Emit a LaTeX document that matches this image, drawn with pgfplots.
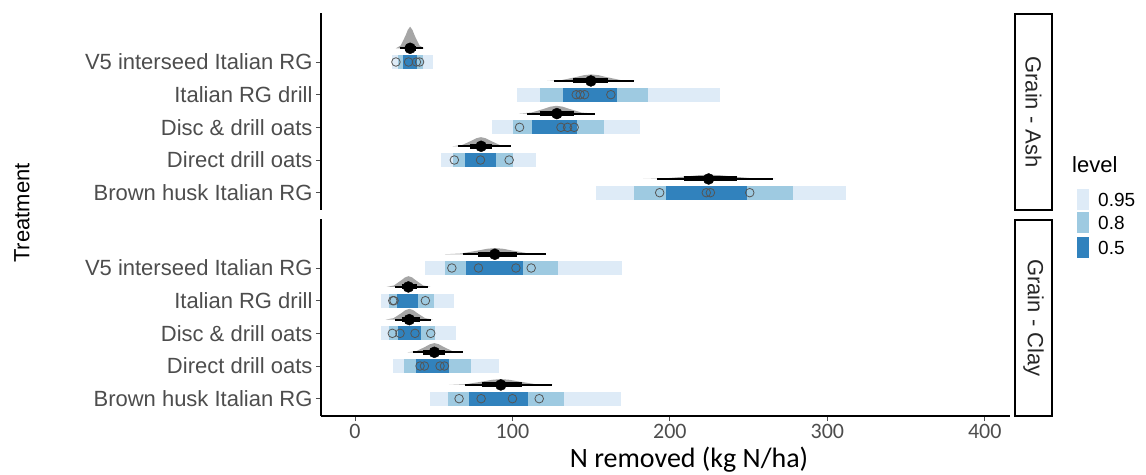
\documentclass[border=0pt]{standalone}
\usepackage{pgfplots}
\pgfplotsset{compat=1.18}
\usepackage{fontspec}
\setmainfont{Liberation Sans}
\newfontfamily\carl{Carlito}
\definecolor{lightb}{HTML}{DEEBF7}
\definecolor{medb}{HTML}{9ECAE1}
\definecolor{darkb}{HTML}{3182BD}
\definecolor{slabg}{HTML}{A6A6A6}
\definecolor{txtg}{HTML}{4D4D4D}
\definecolor{circg}{HTML}{555555}
\newcommand{\band}[5]{\addplot[fill=#5,draw=none,forget plot] coordinates {(#1,#3) (#2,#3) (#2,#4) (#1,#4)};}
\newcommand{\seg}[4]{\addplot[black,line width=#4,forget plot] coordinates {(#1,#3) (#2,#3)};}
\pgfplotsset{panel/.style={
  scale only axis, width=689pt, height=197pt,
  xmin=-21.6, xmax=416, ymin=0.47, ymax=6.5,
  ytick={1,2,3,4,5},
  yticklabels={Brown husk Italian RG, Direct drill oats, Disc \& drill oats, Italian RG drill, V5 interseed Italian RG},
  axis y line*=left,
  tick align=outside, major tick length=5pt,
  tick style={color=txtg, line width=0.9pt},
  axis line style={-, line width=1.2pt, black},
  yticklabel style={font=\fontsize{22}{26}\selectfont, text=txtg},
  /pgf/number format/assume math mode=true,
  clip=false,
}}
\begin{document}
\begin{tikzpicture}[x=1pt,y=1pt]
\useasboundingbox (0,0) rectangle (1146,474);
% ---------------- top panel: Grain - Ash
\begin{axis}[panel, at={(321pt,264pt)}, anchor=south west, axis x line=none]
\band{23.3}{49.6}{4.785}{5.215}{lightb}
\band{102.8}{232}{3.785}{4.215}{lightb}
\band{87.3}{181.2}{2.785}{3.215}{lightb}
\band{54.5}{115}{1.785}{2.215}{lightb}
\band{153.2}{312}{0.785}{1.215}{lightb}
\band{27.3}{43}{4.785}{5.215}{medb}
\band{117.6}{186}{3.785}{4.215}{medb}
\band{100.6}{158.3}{2.785}{3.215}{medb}
\band{62.5}{100.2}{1.785}{2.215}{medb}
\band{177}{278}{0.785}{1.215}{medb}
\band{30.3}{39.2}{4.785}{5.215}{darkb}
\band{132.4}{166.4}{3.785}{4.215}{darkb}
\band{112.3}{140.9}{2.785}{3.215}{darkb}
\band{69.9}{89.6}{1.785}{2.215}{darkb}
\band{197.5}{249}{0.785}{1.215}{darkb}
\addplot[only marks, mark=o, mark size=4.3pt, mark options={draw=circg, line width=0.8pt}] coordinates {
(26,5) (34,5) (39,5) (41,5)
(140.5,4) (143,4) (145.8,4) (162.5,4)
(104.5,3) (130.8,3) (135,3) (139.2,3)
(63.1,2) (79.7,2) (97.9,2)
(193.5,1) (223.1,1) (225.7,1) (250.7,1)};
% slabs
\addplot[fill=slabg, draw=none] coordinates {(26,5.42) (29,5.504) (32,5.798) (33.5,5.98) (35,6.08) (36.5,5.98) (38,5.798) (41,5.504) (44,5.42)};
\addplot[fill=slabg, draw=none] coordinates {(122,4.42) (131.3,4.447) (140.7,4.542) (145.3,4.596) (150,4.62) (154.7,4.596) (159.3,4.542) (168.7,4.447) (178,4.42)};
\addplot[fill=slabg, draw=none] coordinates {(104,3.42) (112,3.452) (120,3.566) (124,3.631) (128,3.66) (132,3.631) (136,3.566) (144,3.452) (152,3.42)};
\addplot[fill=slabg, draw=none] coordinates {(62,2.42) (68,2.458) (74,2.591) (77,2.666) (80,2.70) (83,2.666) (86,2.591) (92,2.458) (98,2.42)};
\addplot[fill=slabg, draw=none] coordinates {(183,1.42) (197,1.438) (211,1.499) (218,1.534) (225,1.55) (232,1.534) (239,1.499) (253,1.438) (267,1.42)};
% intervals
\seg{28.5}{43}{5.42}{2pt}
\seg{126.5}{177.4}{4.42}{2pt}
\seg{109.2}{152.6}{3.42}{2pt}
\seg{65.7}{99}{2.42}{2pt}
\seg{192}{265.3}{1.42}{2pt}
\seg{31.5}{38.5}{5.42}{5pt}
\seg{138.6}{160.8}{4.42}{5pt}
\seg{117.6}{138.8}{3.42}{5pt}
\seg{73}{86.9}{2.42}{5pt}
\seg{208.7}{242.6}{1.42}{5pt}
\addplot[only marks, mark=*, mark size=5.5pt, black] coordinates {(35,5.42) (149.8,4.42) (128.2,3.42) (80.1,2.42) (224.6,1.42)};
\end{axis}
% ---------------- bottom panel: Grain - Clay
\begin{axis}[panel, at={(321pt,58pt)}, anchor=south west, axis x line*=bottom,
  xtick={0,100,200,300,400},
  xticklabel style={font=\carl\fontsize{22}{26}\selectfont, text=txtg}]
\band{44.7}{169.7}{4.785}{5.215}{lightb}
\band{16.5}{63.1}{3.785}{4.215}{lightb}
\band{16.5}{64.2}{2.785}{3.215}{lightb}
\band{24.2}{91.7}{1.785}{2.215}{lightb}
\band{47.7}{169.1}{0.785}{1.215}{lightb}
\band{57.2}{129}{4.785}{5.215}{medb}
\band{21.6}{50.2}{3.785}{4.215}{medb}
\band{21.6}{50.9}{2.785}{3.215}{medb}
\band{31.4}{73.7}{1.785}{2.215}{medb}
\band{59.1}{132.7}{0.785}{1.215}{medb}
\band{70.6}{106.6}{4.785}{5.215}{darkb}
\band{26.5}{40.3}{3.785}{4.215}{darkb}
\band{27.1}{41.8}{2.785}{3.215}{darkb}
\band{38.8}{59.6}{1.785}{2.215}{darkb}
\band{72.5}{109.8}{0.785}{1.215}{darkb}
\addplot[only marks, mark=o, mark size=4.3pt, mark options={draw=circg, line width=0.8pt}] coordinates {
(61.5,5) (78.4,5) (102.2,5) (111.9,5)
(24,4) (24.8,4) (44.7,4)
(23.7,3) (28.6,3) (38.1,3) (48.1,3)
(41.3,2) (44.1,2) (54,2) (56.8,2)
(66.1,1) (80.1,1) (100,1) (117,1)};
% slabs
\addplot[fill=slabg, draw=none] coordinates {(57,5.42) (67.7,5.446) (78.3,5.536) (83.7,5.587) (89,5.61) (94.3,5.587) (99.7,5.536) (110.3,5.446) (121,5.42)};
\addplot[fill=slabg, draw=none] coordinates {(20,4.42) (24.7,4.465) (29.3,4.621) (31.7,4.71) (34,4.75) (36.3,4.71) (38.7,4.621) (43.3,4.465) (48,4.42)};
\addplot[fill=slabg, draw=none] coordinates {(19.5,3.42) (24.5,3.465) (29.5,3.621) (32,3.71) (34.5,3.75) (37,3.71) (39.5,3.621) (44.5,3.465) (49.5,3.42)};
\addplot[fill=slabg, draw=none] coordinates {(33.4,2.42) (39.1,2.458) (44.7,2.591) (47.6,2.666) (50.4,2.70) (53.2,2.666) (56.1,2.591) (61.7,2.458) (67.4,2.42)};
\addplot[fill=slabg, draw=none] coordinates {(59.6,1.42) (70.6,1.444) (81.6,1.53) (87.1,1.578) (92.6,1.60) (98.1,1.578) (103.6,1.53) (114.6,1.444) (125.6,1.42)};
% intervals
\seg{68.5}{121.4}{5.42}{2pt}
\seg{25.4}{46.6}{4.42}{2pt}
\seg{25.4}{48.1}{3.42}{2pt}
\seg{37.1}{68.5}{2.42}{2pt}
\seg{69.9}{125}{1.42}{2pt}
\seg{78.4}{102.8}{5.42}{5pt}
\seg{29.7}{39.2}{4.42}{5pt}
\seg{29.7}{41.3}{3.42}{5pt}
\seg{43.4}{57.2}{2.42}{5pt}
\seg{80.9}{106}{1.42}{5pt}
\addplot[only marks, mark=*, mark size=5.5pt, black] coordinates {(88.8,5.42) (33.9,4.42) (34.5,3.42) (50.4,2.42) (92.6,1.42)};
\end{axis}
% strips
\draw[line width=1.3pt] (1015,264) rectangle (1052,460);
\node[rotate=-90, font=\fontsize{22}{26}\selectfont, text=black!85] at (1033.5,362) {Grain - Ash};
\draw[line width=1.3pt] (1015,58) rectangle (1052,254);
\node[rotate=-90, font=\fontsize{22}{26}\selectfont, text=black!85] at (1033.5,156) {Grain - Clay};
% axis titles
\node[rotate=90, font=\fontsize{22}{26}\selectfont] at (22,261) {Treatment};
\node[font=\carl\fontsize{28}{32}\selectfont] at (689,14) {N removed (kg N/ha)};
% legend
\node[anchor=west, font=\fontsize{22}{26}\selectfont, inner sep=0] at (1072,309) {level};
\fill[lightb] (1077,264) rectangle (1089,285);
\fill[medb] (1077,241) rectangle (1089,262);
\fill[darkb] (1077,216) rectangle (1089,237);
\node[anchor=west, font=\fontsize{19}{22}\selectfont, inner sep=0] at (1098,274.5) {0.95};
\node[anchor=west, font=\fontsize{19}{22}\selectfont, inner sep=0] at (1098,251.5) {0.8};
\node[anchor=west, font=\fontsize{19}{22}\selectfont, inner sep=0] at (1098,226.5) {0.5};
\end{tikzpicture}
\end{document}
